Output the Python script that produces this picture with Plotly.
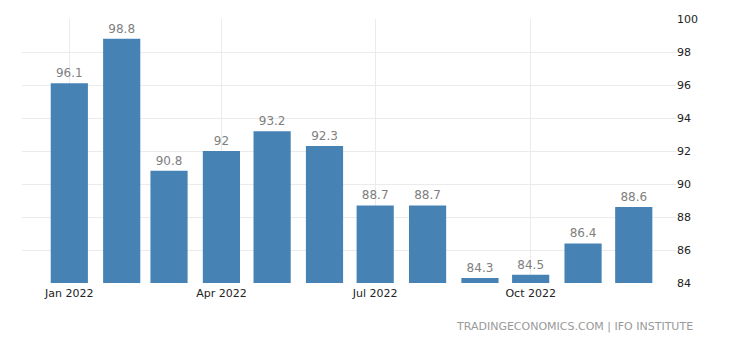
import plotly.graph_objects as go

months = ["2022-01-01", "2022-02-01", "2022-03-01", "2022-04-01", "2022-05-01", "2022-06-01",
          "2022-07-01", "2022-08-01", "2022-09-01", "2022-10-01", "2022-11-01", "2022-12-01"]
values = [96.1, 98.8, 90.8, 92, 93.2, 92.3, 88.7, 88.7, 84.3, 84.5, 86.4, 88.6]
labels = ["96.1", "98.8", "90.8", "92", "93.2", "92.3", "88.7", "88.7", "84.3", "84.5", "86.4", "88.6"]
tick_dates = ["2022-01-01", "2022-04-01", "2022-07-01", "2022-10-01"]
tick_text = ["Jan 2022", "Apr 2022", "Jul 2022", "Oct 2022"]
y_ticks = [84, 86, 88, 90, 92, 94, 96, 98, 100]
BASE = 84

DAY = 86400000

fig = go.Figure(go.Bar(
    x=months, y=[v - BASE for v in values], base=BASE,
    width=[22 * DAY] * len(months),
    marker=dict(color="#4682B4", line=dict(width=0)),
    text=labels, textposition="outside",
    textfont=dict(family="DejaVu Sans", size=12, color="#808080"),
    cliponaxis=False,
))

fig.update_layout(
    width=740, height=345,
    margin=dict(l=22, r=64, t=19, b=62),
    plot_bgcolor="white", paper_bgcolor="white",
    showlegend=False,
    font=dict(family="DejaVu Sans", size=11, color="#222222"),
    xaxis=dict(
        type="date", range=["2021-12-04", "2022-12-26"],
        tickvals=tick_dates, ticktext=tick_text,
        showgrid=True, gridcolor="#ebebeb", gridwidth=1,
        zeroline=False, showline=False, ticks="",
        ticklabelstandoff=2,
        tickfont=dict(family="DejaVu Sans", size=11, color="#222222"),
    ),
    yaxis=dict(
        side="right", range=[84, 100], tickvals=y_ticks,
        showgrid=True, gridcolor="#ebebeb", gridwidth=1,
        zeroline=False, showline=False, ticks="",
        tickfont=dict(family="DejaVu Sans", size=11, color="#222222"),
    ),
    annotations=[dict(
        text="TRADINGECONOMICS.COM | IFO INSTITUTE",
        xref="paper", yref="paper", x=1.0 + 19 / 654, y=-43 / 264,
        xanchor="right", yanchor="middle", showarrow=False,
        font=dict(family="DejaVu Sans", size=11, color="#999999"),
    )],
)

fig.write_html("out.html")
